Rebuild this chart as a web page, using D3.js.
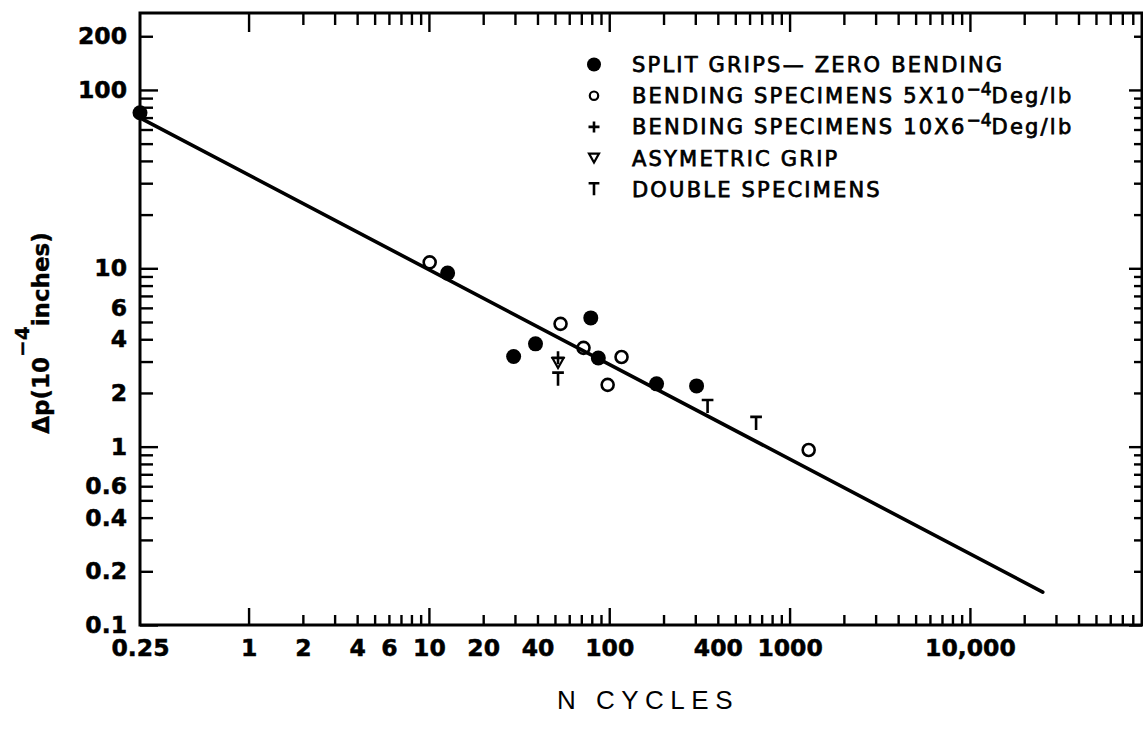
<!DOCTYPE html>
<html>
<head>
<meta charset="utf-8">
<script src="https://cdn.jsdelivr.net/npm/d3@7"></script>
<style>
  html, body { margin: 0; padding: 0; background: #fff; }
  svg { display: block; }
</style>
</head>
<body>
<svg id="chart" width="1143" height="733"></svg>
<script>
// Slip amplitude Δp (10^-4 in) against number of cycles N, log–log.
const splitN   = [0.25, 12.7, 29.5, 39, 79, 87, 183, 305];
const splitDp  = [74.5, 9.4, 3.2, 3.77, 5.27, 3.14, 2.25, 2.19];
const bend5N   = [10.1, 53.7, 72, 98, 117, 1276];
const bend5Dp  = [10.8, 4.88, 3.58, 2.22, 3.18, 0.958];
const bend10N  = [52];
const bend10Dp = [3.15];
const asymN    = [52];
const asymDp   = [2.94];
const doubleN  = [52, 351, 652];
const doubleDp = [2.39, 1.68, 1.35];
const fitN     = [0.25, 25350];
const fitDp    = [69.7, 0.153];

const xTickLabels = [0.25, 1, 2, 4, 6, 10, 20, 40, 100, 400, 1000, 10000];
const yTickLabels = [200, 100, 10, 6, 4, 2, 1, 0.6, 0.4, 0.2, 0.1];

const legendKinds  = ["filled", "open", "plus", "tri", "tee"];
const legendLabels = [
  ["SPLIT GRIPS\u2014 ZERO BENDING"],
  ["BENDING SPECIMENS 5X10", "\u22124", "Deg/lb"],
  ["BENDING SPECIMENS 10X6", "\u22124", "Deg/lb"],
  ["ASYMETRIC GRIP"],
  ["DOUBLE SPECIMENS"]
];

const W = 1143, H = 733;
const plot = { left: 140, right: 1142, top: 13, bottom: 625 };

const x = d3.scaleLog().domain([0.25, 90000]).range([plot.left, plot.right]);
const y = d3.scaleLog().domain([0.1, 270]).range([plot.bottom, plot.top]);

const svg = d3.select("#chart");

// ---- tick sets ----------------------------------------------------------
const xMajor = [1, 10, 100, 1000, 10000];
const xMinor = [];
for (let e = 0; e <= 4; e++) for (let k = 2; k <= 9; k++) {
  const v = k * Math.pow(10, e);
  if (v <= x.domain()[1]) xMinor.push(v);
}
const yMajor = [0.1, 1, 10, 100];
const yMinor = [200];
for (let e = -1; e <= 1; e++) for (let k = 2; k <= 9; k++) yMinor.push(+(k * Math.pow(10, e)).toPrecision(3));

const tickStroke = 2.4;
function styleTicks(g) {
  g.select(".domain").remove();
  g.selectAll(".tick line").attr("stroke", "#000").attr("stroke-width", tickStroke);
}

// bottom (ticks point up into the plot)
svg.append("g").attr("transform", `translate(0,${plot.bottom})`)
  .call(d3.axisBottom(x).tickValues(xMinor).tickSize(-10).tickFormat("")).call(styleTicks);
svg.append("g").attr("transform", `translate(0,${plot.bottom})`)
  .call(d3.axisBottom(x).tickValues(xMajor).tickSize(-17).tickFormat("")).call(styleTicks);
// top (ticks point down)
svg.append("g").attr("transform", `translate(0,${plot.top})`)
  .call(d3.axisTop(x).tickValues(xMinor).tickSize(-12).tickFormat("")).call(styleTicks);
svg.append("g").attr("transform", `translate(0,${plot.top})`)
  .call(d3.axisTop(x).tickValues(xMajor).tickSize(-19).tickFormat("")).call(styleTicks);
// left (ticks point right)
svg.append("g").attr("transform", `translate(${plot.left},0)`)
  .call(d3.axisLeft(y).tickValues(yMinor).tickSize(-13).tickFormat("")).call(styleTicks);
svg.append("g").attr("transform", `translate(${plot.left},0)`)
  .call(d3.axisLeft(y).tickValues(yMajor).tickSize(-18).tickFormat("")).call(styleTicks);
// right (ticks point left)
svg.append("g").attr("transform", `translate(${plot.right},0)`)
  .call(d3.axisRight(y).tickValues(yMinor).tickSize(-8).tickFormat("")).call(styleTicks);
svg.append("g").attr("transform", `translate(${plot.right},0)`)
  .call(d3.axisRight(y).tickValues(yMajor).tickSize(-13).tickFormat("")).call(styleTicks);

// frame
svg.append("rect")
  .attr("x", plot.left).attr("y", plot.top)
  .attr("width", plot.right - plot.left).attr("height", plot.bottom - plot.top)
  .attr("fill", "none").attr("stroke", "#000").attr("stroke-width", 3);

// ---- tick labels --------------------------------------------------------
const commaFmt = d3.format(",");
const fmt = v => (v >= 10000 ? commaFmt(v) : String(v));
const labelFont = "'DejaVu Sans', sans-serif";

function styleLabels(g) {
  g.select(".domain").remove();
  g.selectAll("text")
    .attr("font-family", labelFont).attr("font-weight", "bold").attr("font-size", 23.5)
    .attr("fill", "#000").attr("stroke", "#000").attr("stroke-width", 0.5);
}

svg.append("g")
  .attr("transform", `translate(0,${plot.bottom})`)
  .call(d3.axisBottom(x).tickValues(xTickLabels).tickSize(0).tickPadding(14).tickFormat(fmt))
  .call(styleLabels);

svg.append("g")
  .attr("transform", `translate(${plot.left},0)`)
  .call(d3.axisLeft(y).tickValues(yTickLabels).tickSize(0).tickPadding(13).tickFormat(fmt))
  .call(styleLabels);

// ---- axis titles --------------------------------------------------------
svg.append("text")
  .attr("x", (plot.left + plot.right) / 2 + 7).attr("y", 709)
  .attr("text-anchor", "middle")
  .attr("font-family", "'Liberation Sans', Arial, sans-serif")
  .attr("font-size", 26).attr("letter-spacing", 6.5)
  .text("N CYCLES");

const yTitle = svg.append("text")
  .attr("transform", `translate(49,${333}) rotate(-90)`)
  .attr("text-anchor", "middle")
  .attr("font-family", labelFont).attr("font-weight", "bold").attr("font-size", 23)
  .attr("stroke", "#000").attr("stroke-width", 0.4);
yTitle.append("tspan").text("\u0394p(10");
yTitle.append("tspan").attr("dy", -20).attr("font-size", 20).text("\u22124");
yTitle.append("tspan").attr("dy", 20).text("inches)");

// ---- marker shapes --------------------------------------------------------
function teePath(s) {
  return `M${-s * 0.45},${-s * 0.5}H${s * 0.45}M0,${-s * 0.5}V${s * 0.5}`;
}
function triPath(s) {
  const h = s * 0.9;
  return `M${-s / 2},${-h / 2}L${s / 2},${-h / 2}L0,${h / 2}Z`;
}
function plusPath(s) {
  return `M${-s / 2},0H${s / 2}M0,${-s / 2}V${s / 2}`;
}

function drawMarker(g, kind, big) {
  if (kind === "filled") {
    g.append("circle").attr("r", big ? 7.5 : 7).attr("fill", "#000");
  } else if (kind === "open") {
    g.append("circle").attr("r", big ? 6 : 4.2)
      .attr("fill", "none").attr("stroke", "#000").attr("stroke-width", big ? 2.6 : 2.2);
  } else if (kind === "plus") {
    g.append("path").attr("d", plusPath(big ? 13 : 11))
      .attr("stroke", "#000").attr("stroke-width", 2.6).attr("fill", "none");
  } else if (kind === "tri") {
    g.append("path").attr("d", triPath(big ? 11 : 10))
      .attr("stroke", "#000").attr("stroke-width", 2.2).attr("fill", "none");
  } else if (kind === "tee") {
    g.append("path").attr("d", teePath(big ? 13 : 12))
      .attr("stroke", "#000").attr("stroke-width", 2.6).attr("fill", "none");
  }
}

// ---- fitted line ---------------------------------------------------------
const fit = fitN.map((n, i) => [n, fitDp[i]]);
svg.append("path")
  .datum(fit)
  .attr("d", d3.line().x(d => x(d[0])).y(d => y(d[1])))
  .attr("fill", "none").attr("stroke", "#000").attr("stroke-width", 3.6)
  .attr("stroke-linecap", "round");

// ---- data points ---------------------------------------------------------
const series = [
  { kind: "open",   n: bend5N,   dp: bend5Dp },
  { kind: "filled", n: splitN,   dp: splitDp },
  { kind: "tee",    n: doubleN,  dp: doubleDp },
  { kind: "tri",    n: asymN,    dp: asymDp },
  { kind: "plus",   n: bend10N,  dp: bend10Dp }
];
series.forEach(s => {
  s.n.forEach((n, i) => {
    const g = svg.append("g").attr("transform", `translate(${x(n)},${y(s.dp[i])})`);
    drawMarker(g, s.kind, true);
  });
});

// ---- legend --------------------------------------------------------------
const legend = svg.append("g").attr("transform", "translate(594,64.5)");
const rowGap = 31.2;
legendKinds.forEach((kind, i) => {
  const row = legend.append("g").attr("transform", `translate(0,${i * rowGap})`);
  drawMarker(row, kind, false);
  const t = row.append("text")
    .attr("x", 38).attr("y", 7.5)
    .attr("font-family", labelFont).attr("font-size", 21)
    .attr("letter-spacing", 2.2)
    .attr("stroke", "#000").attr("stroke-width", 0.75)
    .attr("fill", "#000");
  const parts = legendLabels[i];
  t.append("tspan").text(parts[0]);
  if (parts.length > 1) {
    t.append("tspan").attr("dy", -8).attr("font-size", 17).attr("letter-spacing", 0).text(parts[1]);
    t.append("tspan").attr("dy", 8).text(parts[2]);
  }
});
</script>
</body>
</html>
